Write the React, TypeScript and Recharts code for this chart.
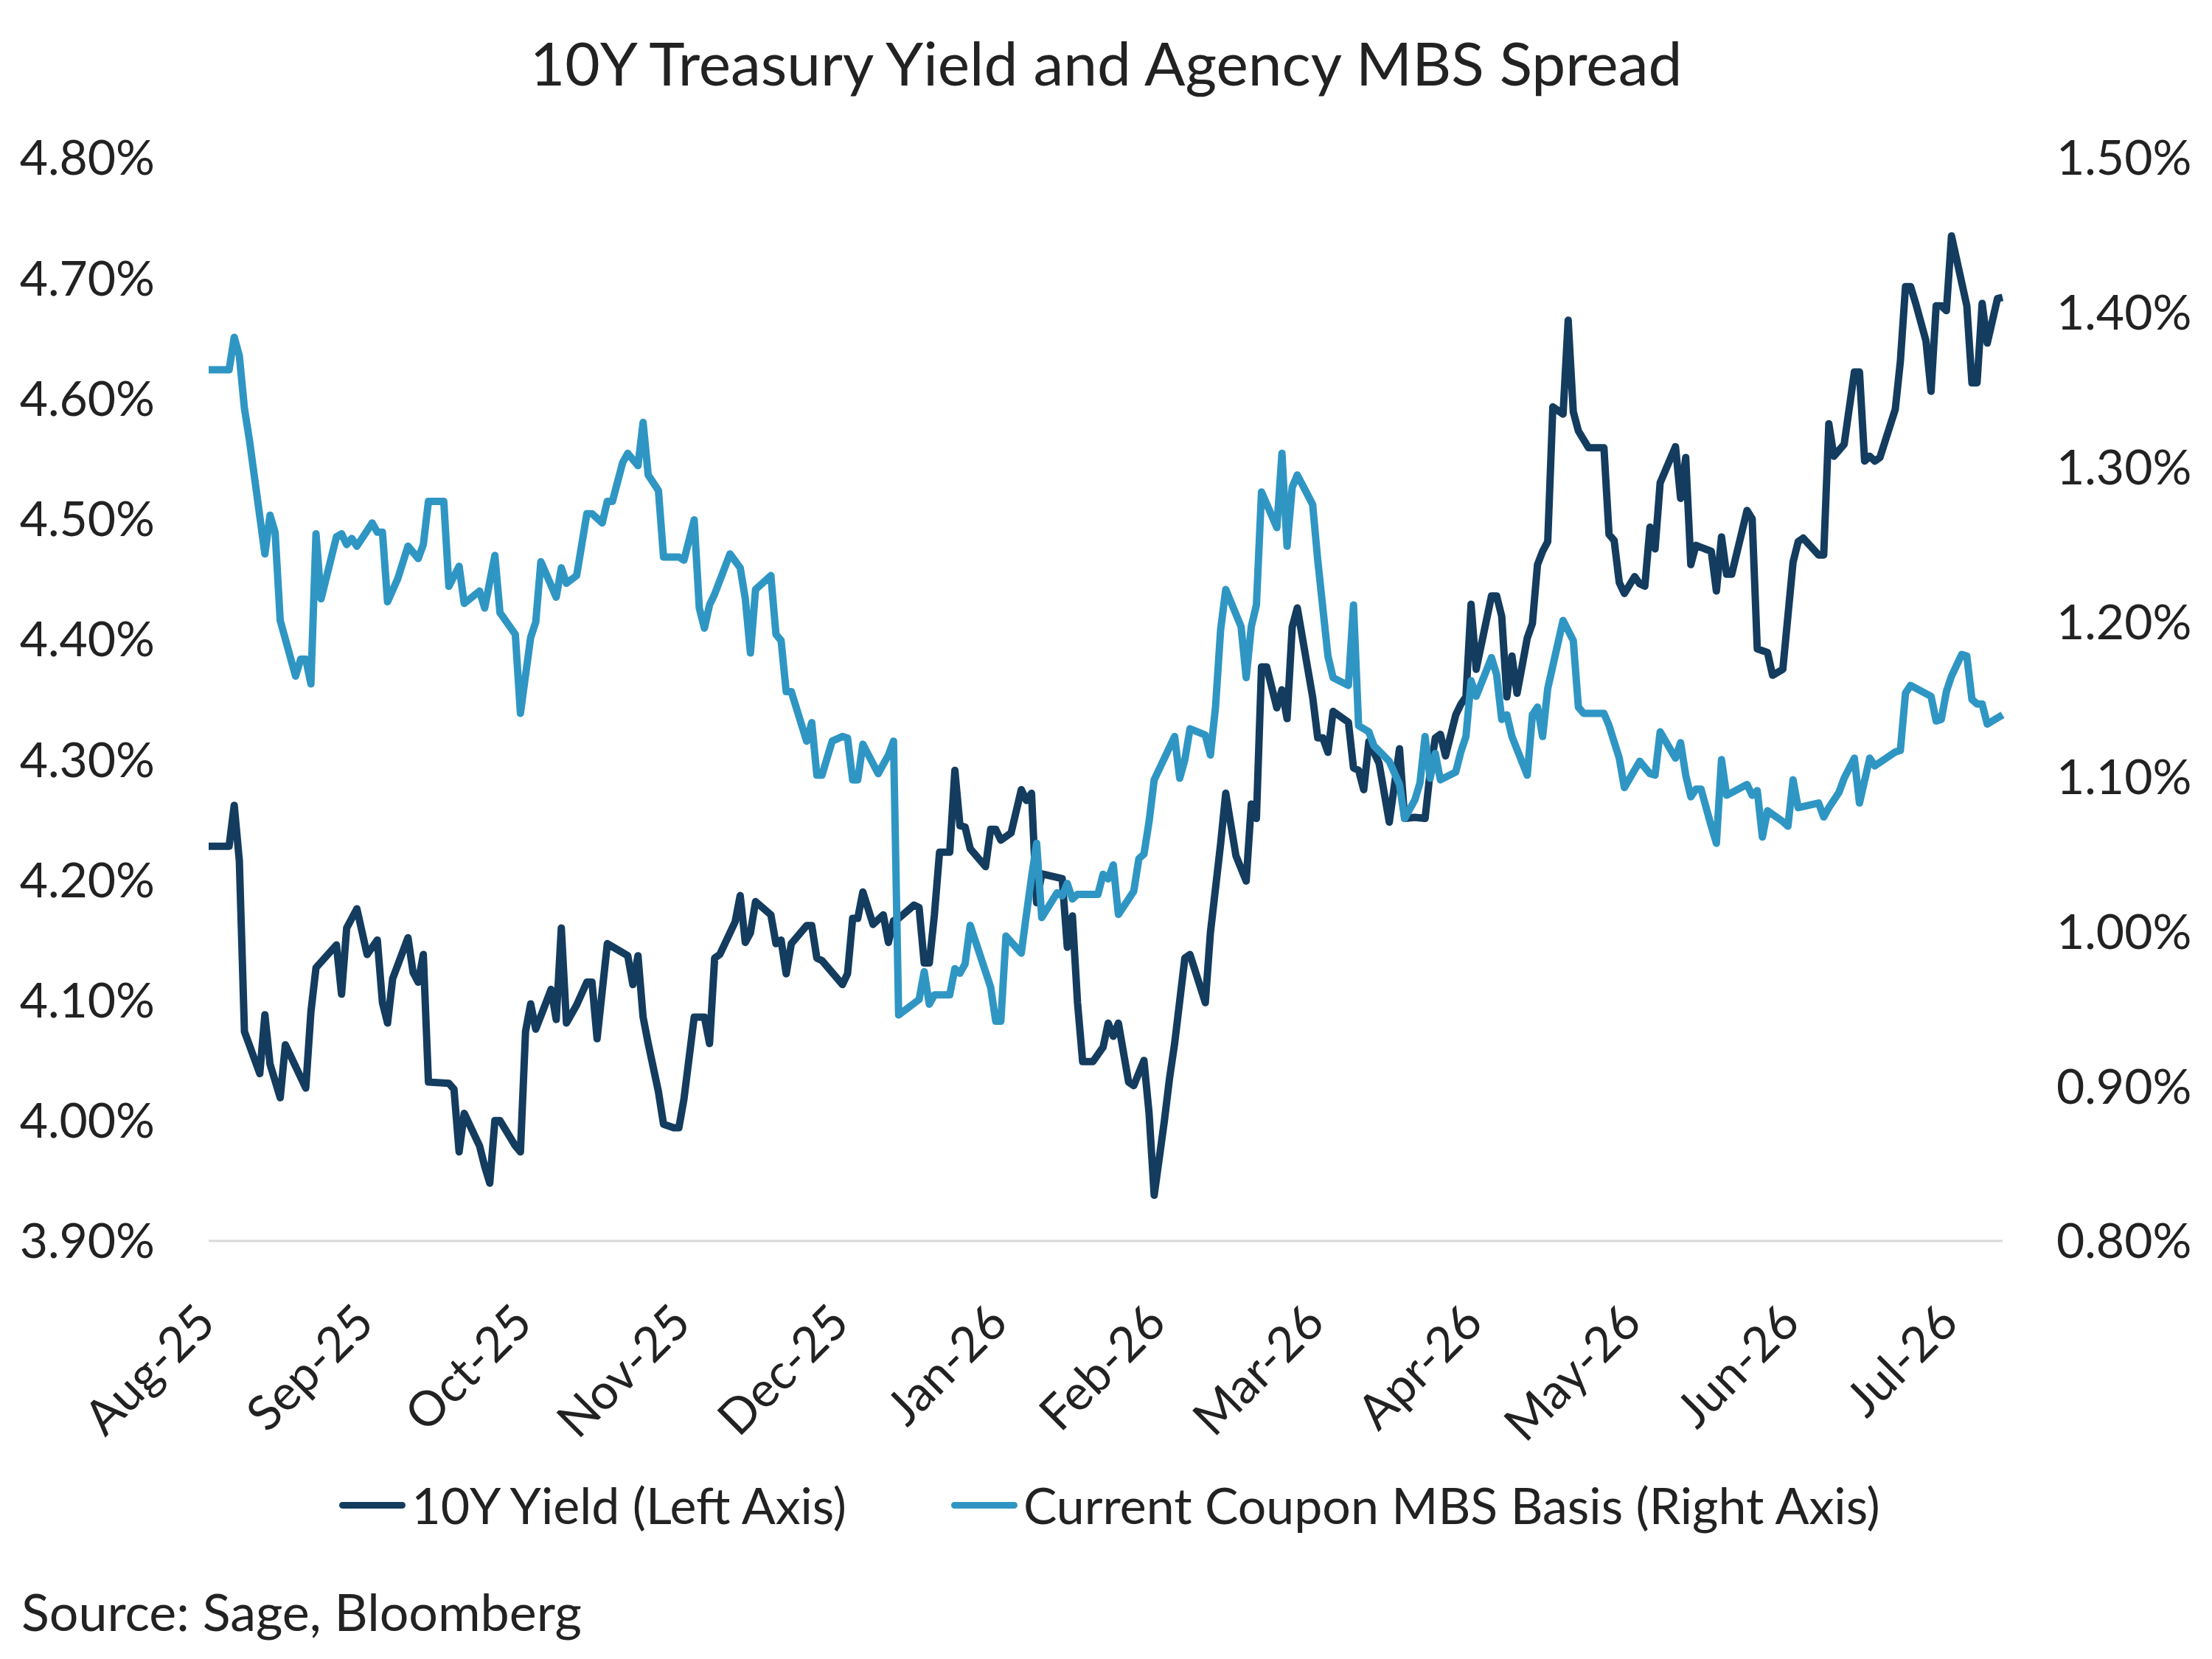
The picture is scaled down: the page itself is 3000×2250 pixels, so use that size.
import { LineChart, Line, XAxis, YAxis } from 'recharts';

// ── Data ───────────────────────────────────────────
// x = calendar day counted from the first observation (Aug-25 = day 0)

const monthLabels = ['Aug-25', 'Sep-25', 'Oct-25', 'Nov-25', 'Dec-25', 'Jan-26', 'Feb-26', 'Mar-26', 'Apr-26', 'May-26', 'Jun-26', 'Jul-26'];
const monthTicks = [0, 31, 62, 93, 124, 155, 186, 217, 248, 279, 310, 341];
const lastDay = 351;

const leftTicks = [3.9, 4.0, 4.1, 4.2, 4.3, 4.4, 4.5, 4.6, 4.7, 4.8];
const rightTicks = [0.8, 0.9, 1.0, 1.1, 1.2, 1.3, 1.4, 1.5];

// 10Y Treasury yield, % (left axis)
const yieldPoints: [number, number][] = [
  [0, 4.228], [4, 4.228], [5, 4.262], [6, 4.216], [7, 4.074], [10, 4.039], [11, 4.088], [12, 4.047], [14, 4.019], [15, 4.063],
  [19, 4.027], [20, 4.09], [21, 4.127], [25, 4.146], [26, 4.105], [27, 4.16], [29, 4.176], [31, 4.138], [33, 4.15], [34, 4.098],
  [35, 4.081], [36, 4.118], [39, 4.152], [40, 4.123], [41, 4.115], [42, 4.138], [43, 4.032], [47, 4.031], [48, 4.026], [49, 3.974],
  [50, 4.006], [53, 3.979], [54, 3.962], [55, 3.948], [56, 4.0], [57, 4.0], [60, 3.979], [61, 3.974], [62, 4.074], [63, 4.097],
  [64, 4.076], [67, 4.109], [68, 4.084], [69, 4.16], [70, 4.081], [72, 4.096], [74, 4.115], [75, 4.115], [76, 4.068], [78, 4.147],
  [82, 4.137], [83, 4.113], [84, 4.137], [85, 4.086], [86, 4.064], [88, 4.024], [89, 3.997], [91, 3.994], [92, 3.994], [93, 4.018],
  [95, 4.086], [97, 4.086], [98, 4.064], [99, 4.135], [100, 4.138], [103, 4.165], [104, 4.187], [105, 4.148], [106, 4.156], [107, 4.182],
  [110, 4.171], [111, 4.147], [112, 4.15], [113, 4.122], [114, 4.147], [117, 4.162], [118, 4.162], [119, 4.135], [120, 4.133], [124, 4.113],
  [125, 4.122], [126, 4.168], [127, 4.168], [128, 4.19], [130, 4.163], [132, 4.171], [133, 4.148], [134, 4.166], [135, 4.168], [138, 4.179],
  [139, 4.177], [140, 4.131], [141, 4.131], [142, 4.171], [143, 4.223], [145, 4.223], [146, 4.291], [147, 4.245], [148, 4.244], [149, 4.226],
  [152, 4.211], [153, 4.242], [154, 4.242], [155, 4.233], [157, 4.239], [159, 4.275], [160, 4.266], [161, 4.272], [162, 4.181], [163, 4.205],
  [167, 4.201], [168, 4.144], [169, 4.17], [170, 4.098], [171, 4.049], [173, 4.049], [175, 4.061], [176, 4.081], [177, 4.07], [178, 4.081],
  [180, 4.032], [181, 4.029], [183, 4.05], [184, 4.006], [185, 3.938], [187, 4.0], [188, 4.035], [189, 4.064], [191, 4.135], [192, 4.138],
  [195, 4.098], [196, 4.156], [198, 4.23], [199, 4.272], [201, 4.22], [203, 4.199], [204, 4.263], [205, 4.251], [206, 4.377], [207, 4.377],
  [209, 4.343], [210, 4.358], [211, 4.334], [212, 4.41], [213, 4.426], [216, 4.352], [217, 4.318], [218, 4.318], [219, 4.306], [220, 4.34],
  [223, 4.331], [224, 4.293], [225, 4.291], [226, 4.275], [227, 4.315], [229, 4.297], [231, 4.248], [233, 4.309], [234, 4.251], [236, 4.252],
  [238, 4.251], [239, 4.29], [240, 4.318], [241, 4.321], [242, 4.303], [244, 4.337], [245, 4.346], [246, 4.352], [247, 4.429], [248, 4.375],
  [251, 4.436], [252, 4.436], [253, 4.419], [254, 4.352], [255, 4.386], [256, 4.355], [258, 4.401], [259, 4.413], [260, 4.462], [261, 4.473],
  [262, 4.481], [263, 4.593], [265, 4.587], [266, 4.665], [267, 4.589], [268, 4.573], [270, 4.559], [273, 4.559], [274, 4.487], [275, 4.482],
  [276, 4.447], [277, 4.438], [279, 4.452], [280, 4.446], [281, 4.444], [282, 4.493], [283, 4.475], [284, 4.53], [287, 4.56], [288, 4.517],
  [289, 4.551], [290, 4.462], [291, 4.478], [294, 4.473], [295, 4.44], [296, 4.485], [297, 4.454], [298, 4.454], [301, 4.507], [302, 4.5],
  [303, 4.392], [305, 4.389], [306, 4.37], [308, 4.375], [310, 4.464], [311, 4.481], [312, 4.484], [315, 4.47], [316, 4.47], [317, 4.579],
  [318, 4.552], [320, 4.562], [322, 4.622], [323, 4.622], [324, 4.548], [325, 4.552], [326, 4.548], [327, 4.551], [330, 4.591], [331, 4.631],
  [332, 4.693], [333, 4.693], [334, 4.679], [336, 4.648], [337, 4.606], [338, 4.677], [339, 4.677], [340, 4.673], [341, 4.735], [344, 4.677],
  [345, 4.613], [346, 4.613], [347, 4.679], [348, 4.646], [350, 4.683], [351, 4.684],
];

// Current coupon MBS basis, % (right axis)
const mbsPoints: [number, number][] = [
  [0, 1.363], [4, 1.363], [5, 1.384], [6, 1.372], [7, 1.338], [8, 1.317], [11, 1.244], [12, 1.269], [13, 1.258], [14, 1.201],
  [17, 1.165], [18, 1.176], [19, 1.176], [20, 1.16], [21, 1.257], [22, 1.215], [25, 1.255], [26, 1.257], [27, 1.25], [28, 1.254],
  [29, 1.249], [32, 1.264], [33, 1.258], [34, 1.258], [35, 1.213], [37, 1.228], [39, 1.249], [41, 1.241], [42, 1.25], [43, 1.278],
  [46, 1.278], [47, 1.223], [49, 1.236], [50, 1.212], [53, 1.22], [54, 1.209], [56, 1.243], [57, 1.206], [60, 1.192], [61, 1.141],
  [63, 1.19], [64, 1.2], [65, 1.239], [68, 1.216], [69, 1.235], [70, 1.225], [72, 1.23], [74, 1.27], [75, 1.27], [77, 1.264],
  [78, 1.278], [79, 1.278], [81, 1.303], [82, 1.309], [84, 1.301], [85, 1.329], [86, 1.295], [88, 1.285], [89, 1.242], [92, 1.242],
  [93, 1.24], [95, 1.266], [96, 1.209], [97, 1.196], [98, 1.211], [99, 1.218], [102, 1.244], [104, 1.235], [105, 1.215], [106, 1.18],
  [107, 1.221], [110, 1.23], [111, 1.192], [112, 1.188], [113, 1.155], [114, 1.155], [117, 1.123], [118, 1.135], [119, 1.101], [120, 1.101],
  [122, 1.123], [124, 1.126], [125, 1.125], [126, 1.098], [127, 1.098], [128, 1.121], [131, 1.102], [133, 1.114], [134, 1.123], [135, 0.946],
  [139, 0.956], [140, 0.974], [141, 0.953], [142, 0.959], [145, 0.959], [146, 0.976], [147, 0.973], [148, 0.979], [149, 1.004], [153, 0.964],
  [154, 0.942], [155, 0.942], [156, 0.997], [159, 0.986], [160, 1.011], [161, 1.035], [162, 1.057], [163, 1.009], [166, 1.025], [167, 1.023],
  [168, 1.031], [169, 1.021], [170, 1.024], [174, 1.024], [175, 1.037], [176, 1.034], [177, 1.043], [178, 1.011], [181, 1.026], [182, 1.047],
  [183, 1.05], [184, 1.071], [185, 1.098], [189, 1.126], [190, 1.099], [191, 1.111], [192, 1.131], [195, 1.127], [196, 1.114], [197, 1.145],
  [198, 1.195], [199, 1.221], [202, 1.197], [203, 1.164], [204, 1.197], [205, 1.211], [206, 1.284], [209, 1.261], [210, 1.309], [211, 1.249],
  [212, 1.287], [213, 1.295], [216, 1.276], [217, 1.24], [219, 1.178], [220, 1.164], [223, 1.159], [224, 1.211], [225, 1.133], [227, 1.129],
  [228, 1.12], [231, 1.11], [233, 1.095], [234, 1.073], [236, 1.085], [237, 1.096], [238, 1.126], [239, 1.099], [240, 1.115], [241, 1.098],
  [244, 1.103], [245, 1.116], [246, 1.126], [247, 1.162], [248, 1.152], [251, 1.177], [252, 1.166], [253, 1.137], [254, 1.14], [255, 1.126],
  [258, 1.101], [259, 1.14], [260, 1.145], [261, 1.126], [262, 1.157], [265, 1.201], [267, 1.188], [268, 1.145], [269, 1.141], [273, 1.141],
  [274, 1.133], [276, 1.112], [277, 1.093], [280, 1.11], [282, 1.102], [283, 1.101], [284, 1.129], [287, 1.112], [288, 1.122], [289, 1.101],
  [290, 1.087], [291, 1.092], [292, 1.092], [294, 1.068], [295, 1.057], [296, 1.111], [297, 1.088], [301, 1.095], [302, 1.088], [303, 1.091],
  [304, 1.061], [305, 1.078], [308, 1.071], [309, 1.068], [310, 1.098], [311, 1.08], [315, 1.083], [316, 1.074], [317, 1.08], [319, 1.09],
  [320, 1.099], [322, 1.112], [323, 1.083], [325, 1.112], [326, 1.107], [330, 1.116], [331, 1.117], [332, 1.154], [333, 1.159], [337, 1.152],
  [338, 1.136], [339, 1.137], [340, 1.155], [341, 1.165], [343, 1.179], [344, 1.178], [345, 1.15], [346, 1.147], [347, 1.147], [348, 1.134],
  [351, 1.14],
];

// ── Style ──────────────────────────────────────────

const FONT = 'Lato, "Open Sans", sans-serif';
const TEXT = '#222222';
const DARK = '#133c5f';
const LIGHT = '#2f96c4';
const TICK_SIZE = 66;

const yieldData = yieldPoints.map(([day, value]) => ({ day, value }));
const mbsData = mbsPoints.map(([day, value]) => ({ day, value }));

const pct = (v: number) => `${v.toFixed(2)}%`;

// ── Rotated month tick ─────────────────────────────

function MonthTick({ x, y, payload }: { x?: number; y?: number; payload?: { value: number } }) {
  const label = monthLabels[monthTicks.indexOf(payload?.value ?? -1)];
  const tx = (x ?? 0) - 4;
  const ty = (y ?? 0) + 98;
  return (
    <text
      x={tx}
      y={ty}
      dy="0.35em"
      textAnchor="end"
      transform={`rotate(-45, ${tx}, ${ty})`}
      fill={TEXT}
      fontSize={TICK_SIZE}
      fontFamily={FONT}
    >
      {label}
    </text>
  );
}

// ── Legend ─────────────────────────────────────────

const legendItems = [
  { name: '10Y Yield (Left Axis)', color: DARK },
  { name: 'Current Coupon MBS Basis (Right Axis)', color: LIGHT },
];

function LegendRow() {
  return (
    <div
      style={{
        position: 'absolute',
        top: 2007,
        left: 0,
        width: 3000,
        display: 'flex',
        justifyContent: 'center',
        gap: 142,
        fontSize: 68,
        lineHeight: 1,
        color: TEXT,
        paddingLeft: 10,
        boxSizing: 'border-box',
      }}
    >
      {legendItems.map((item) => (
        <div key={item.name} style={{ display: 'flex', alignItems: 'center' }}>
          <span
            style={{ width: 90, height: 9, borderRadius: 5, background: item.color, marginRight: 8 }}
          />
          <span style={{ whiteSpace: 'nowrap' }}>{item.name}</span>
        </div>
      ))}
    </div>
  );
}

// ── Component ──────────────────────────────────────

export default function App() {
  return (
    <div
      style={{
        position: 'absolute',
        left: 0,
        top: 0,
        width: 3000,
        height: 2250,
        background: '#ffffff',
        overflow: 'hidden',
        fontFamily: FONT,
      }}
    >
      <div
        style={{
          position: 'absolute',
          top: 43,
          left: 0,
          width: 3000,
          textAlign: 'center',
          fontSize: 82,
          lineHeight: 1,
          color: TEXT,
        }}
      >
        10Y Treasury Yield and Agency MBS Spread
      </div>

      <LineChart width={3000} height={2250} margin={{ top: 214, right: 0, bottom: 267, left: 0 }}>
        <XAxis
          dataKey="day"
          type="number"
          domain={[0, lastDay]}
          ticks={monthTicks}
          interval={0}
          height={300}
          tick={<MonthTick />}
          tickLine={false}
          tickSize={0}
          tickMargin={0}
          axisLine={{ stroke: '#d9d9d9', strokeWidth: 3 }}
        />
        <YAxis
          yAxisId="left"
          orientation="left"
          width={283}
          domain={[3.9, 4.8]}
          ticks={leftTicks}
          tickFormatter={pct}
          axisLine={false}
          tickLine={false}
          tickSize={0}
          tickMargin={73}
          tick={{ fill: TEXT, fontSize: TICK_SIZE, fontFamily: FONT }}
        />
        <YAxis
          yAxisId="right"
          orientation="right"
          width={284}
          domain={[0.8, 1.5]}
          ticks={rightTicks}
          tickFormatter={pct}
          axisLine={false}
          tickLine={false}
          tickSize={0}
          tickMargin={73}
          tick={{ fill: TEXT, fontSize: TICK_SIZE, fontFamily: FONT }}
        />
        <Line
          yAxisId="left"
          data={yieldData}
          dataKey="value"
          name="10Y Yield (Left Axis)"
          type="linear"
          stroke={DARK}
          strokeWidth={10}
          strokeLinejoin="round"
          dot={false}
          isAnimationActive={false}
        />
        <Line
          yAxisId="right"
          data={mbsData}
          dataKey="value"
          name="Current Coupon MBS Basis (Right Axis)"
          type="linear"
          stroke={LIGHT}
          strokeWidth={10}
          strokeLinejoin="round"
          dot={false}
          isAnimationActive={false}
        />
      </LineChart>

      <LegendRow />

      <div
        style={{
          position: 'absolute',
          top: 2150,
          left: 29,
          fontSize: 70,
          lineHeight: 1,
          color: TEXT,
        }}
      >
        Source: Sage, Bloomberg
      </div>
    </div>
  );
}
